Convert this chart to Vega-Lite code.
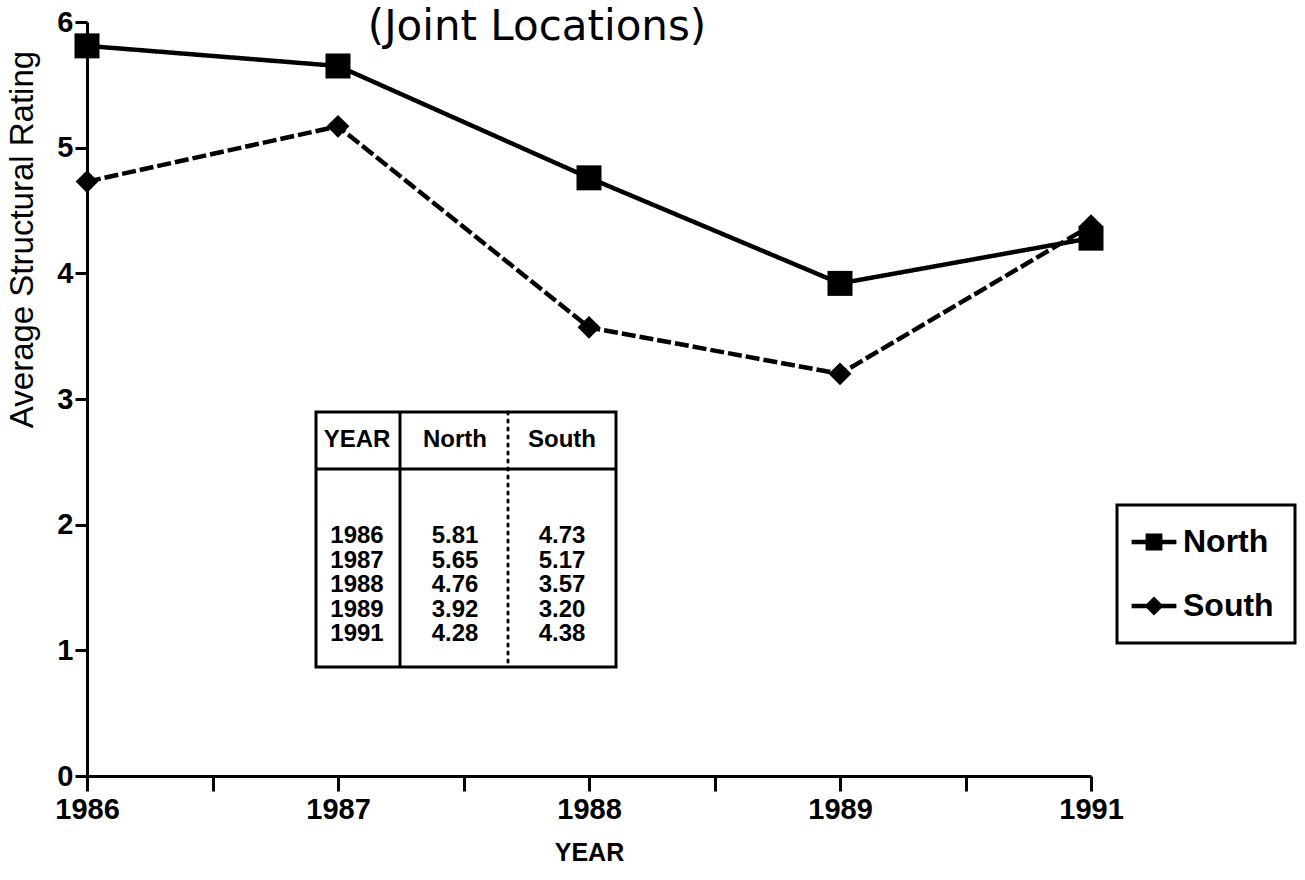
{
  "$schema": "https://vega.github.io/schema/vega-lite/v6.json",
  "width": 1004,
  "height": 754,
  "autosize": "none",
  "padding": {"left": 87, "top": 22, "right": 214, "bottom": 104},
  "background": "white",
  "title": {"text": "(Joint Locations)", "font": "DejaVu Sans", "fontSize": 42, "fontWeight": "normal", "color": "black", "anchor": "middle", "offset": -41, "dx": -52},
  "data": {"values": [
    {"year": "1986", "North": 5.81, "South": 4.73},
    {"year": "1987", "North": 5.65, "South": 5.17},
    {"year": "1988", "North": 4.76, "South": 3.57},
    {"year": "1989", "North": 3.92, "South": 3.20},
    {"year": "1991", "North": 4.28, "South": 4.38}
  ]},
  "layer": [
    {
      "transform": [{"fold": ["North", "South"], "as": ["series", "value"]}],
      "encoding": {
        "x": {"field": "year", "type": "ordinal",
          "scale": {"type": "point", "domain": ["1986", "1986.5", "1987", "1987.5", "1988", "1988.5", "1989", "1989.5", "1991"], "padding": 0},
          "axis": {"title": "YEAR", "labelExpr": "indexof(datum.label, '.') >= 0 ? '' : datum.label", "labelAngle": 0, "labelOverlap": false, "labelFlush": false,
            "tickSize": 15, "tickWidth": 3, "tickColor": "black", "domainWidth": 3, "domainColor": "black",
            "labelFont": "Liberation Sans", "labelFontSize": 29, "labelFontWeight": "bold", "labelColor": "black", "labelPadding": 4,
            "titleFont": "Liberation Sans", "titleFontSize": 25, "titleFontWeight": "bold", "titleColor": "black", "titlePadding": 16, "grid": false}},
        "y": {"field": "value", "type": "quantitative",
          "scale": {"domain": [0, 6], "nice": false},
          "axis": {"values": [0, 1, 2, 3, 4, 5, 6], "tickSize": 12, "tickWidth": 3, "tickColor": "black", "domainWidth": 3, "domainColor": "black",
            "labelFont": "Liberation Sans", "labelFontSize": 29, "labelFontWeight": "bold", "labelColor": "black", "labelPadding": 2,
            "title": "Average Structural Rating", "titleFont": "Liberation Sans", "titleFontSize": 33, "titleFontWeight": "normal", "titleColor": "black",
            "titleY": 217, "titleX": -48, "grid": false}}
      },
      "layer": [
        {"mark": {"type": "line", "color": "black", "strokeWidth": 4.5},
         "encoding": {"strokeDash": {"field": "series", "type": "nominal", "scale": {"domain": ["North", "South"], "range": [[1, 0], [14, 4]]}, "legend": null}}},
        {"mark": {"type": "point", "filled": true, "color": "black", "opacity": 1},
         "encoding": {
           "shape": {"field": "series", "type": "nominal", "scale": {"domain": ["North", "South"], "range": ["square", "diamond"]}, "legend": null},
           "size": {"field": "series", "type": "nominal", "scale": {"domain": ["North", "South"], "range": [625, 520]}, "legend": null}}},
        {"mark": {"type": "point", "filled": true, "color": "black", "opacity": 0, "size": 784},
         "encoding": {
           "shape": {"field": "series", "type": "nominal",
             "scale": {"domain": ["North", "South"], "range": ["M-1.6,-0.16L1.6,-0.16L1.6,0.16L-1.6,0.16Z M-0.6,-0.6L0.6,-0.6L0.6,0.6L-0.6,0.6Z", "M-1.6,-0.16L1.6,-0.16L1.6,0.16L-1.6,0.16Z M0,-0.68L0.68,0L0,0.68L-0.68,0Z"]},
             "legend": {"title": null, "orient": "none", "legendX": 1030, "legendY": 483, "symbolSize": 784, "symbolOpacity": 1, "symbolFillColor": "black", "symbolStrokeColor": "black", "symbolStrokeWidth": 0,
               "labelFont": "Liberation Sans", "labelFontSize": 32, "labelFontWeight": "bold", "labelColor": "black", "labelOffset": 13, "rowPadding": 32, "padding": 21, "strokeColor": "black"}}}}
      ],
      "resolve": {"scale": {"shape": "independent", "size": "independent"}}
    },
    {
      "layer": [
        {"data": {"values": [{}]}, "mark": {"type": "rect", "fill": "white", "stroke": "black", "strokeWidth": 3},
         "encoding": {
           "x": {"datum": 0, "type": "quantitative", "scale": {"domain": [0, 300], "range": [229, 529], "nice": false, "zero": false}, "axis": null},
           "x2": {"datum": 300},
           "y": {"datum": 0, "type": "quantitative", "scale": {"domain": [0, 255], "range": [390, 645], "nice": false, "zero": false}, "axis": null},
           "y2": {"datum": 255}}},
        {"data": {"values": [{}]}, "mark": {"type": "rule", "color": "black", "strokeWidth": 3},
         "encoding": {
           "x": {"datum": 84, "type": "quantitative", "scale": {"domain": [0, 300], "range": [229, 529], "nice": false, "zero": false}, "axis": null},
           "y": {"datum": 0, "type": "quantitative", "scale": {"domain": [0, 255], "range": [390, 645], "nice": false, "zero": false}, "axis": null},
           "y2": {"datum": 255}}},
        {"data": {"values": [{}]}, "mark": {"type": "rule", "color": "black", "strokeWidth": 3, "strokeDash": [2, 6], "strokeCap": "round"},
         "encoding": {
           "x": {"datum": 192, "type": "quantitative", "scale": {"domain": [0, 300], "range": [229, 529], "nice": false, "zero": false}, "axis": null},
           "y": {"datum": 0, "type": "quantitative", "scale": {"domain": [0, 255], "range": [390, 645], "nice": false, "zero": false}, "axis": null},
           "y2": {"datum": 255}}},
        {"data": {"values": [{}]}, "mark": {"type": "rule", "color": "black", "strokeWidth": 3},
         "encoding": {
           "x": {"datum": 0, "type": "quantitative", "scale": {"domain": [0, 300], "range": [229, 529], "nice": false, "zero": false}, "axis": null},
           "x2": {"datum": 300},
           "y": {"datum": 57, "type": "quantitative", "scale": {"domain": [0, 255], "range": [390, 645], "nice": false, "zero": false}, "axis": null}}},
        {"data": {"values": [{}]}, "mark": {"type": "text", "font": "Liberation Sans", "fontSize": 24, "fontWeight": "bold", "color": "black", "align": "center", "baseline": "middle", "text": "YEAR"},
         "encoding": {
           "x": {"datum": 41, "type": "quantitative", "scale": {"domain": [0, 300], "range": [229, 529], "nice": false, "zero": false}, "axis": null},
           "y": {"datum": 28, "type": "quantitative", "scale": {"domain": [0, 255], "range": [390, 645], "nice": false, "zero": false}, "axis": null}}},
        {"data": {"values": [{}]}, "mark": {"type": "text", "font": "Liberation Sans", "fontSize": 24, "fontWeight": "bold", "color": "black", "align": "center", "baseline": "middle", "text": "North"},
         "encoding": {
           "x": {"datum": 139, "type": "quantitative", "scale": {"domain": [0, 300], "range": [229, 529], "nice": false, "zero": false}, "axis": null},
           "y": {"datum": 28, "type": "quantitative", "scale": {"domain": [0, 255], "range": [390, 645], "nice": false, "zero": false}, "axis": null}}},
        {"data": {"values": [{}]}, "mark": {"type": "text", "font": "Liberation Sans", "fontSize": 24, "fontWeight": "bold", "color": "black", "align": "center", "baseline": "middle", "text": "South"},
         "encoding": {
           "x": {"datum": 246, "type": "quantitative", "scale": {"domain": [0, 300], "range": [229, 529], "nice": false, "zero": false}, "axis": null},
           "y": {"datum": 28, "type": "quantitative", "scale": {"domain": [0, 255], "range": [390, 645], "nice": false, "zero": false}, "axis": null}}},
        {"mark": {"type": "text", "font": "Liberation Sans", "fontSize": 24, "fontWeight": "bold", "color": "black", "align": "center", "baseline": "middle"},
         "encoding": {
           "x": {"datum": 41, "type": "quantitative", "scale": {"domain": [0, 300], "range": [229, 529], "nice": false, "zero": false}, "axis": null},
           "y": {"field": "year", "type": "ordinal", "scale": {"type": "point", "domain": ["1986", "1987", "1988", "1989", "1991"], "range": [514, 612], "padding": 0}, "axis": null},
           "text": {"field": "year"}}},
        {"mark": {"type": "text", "font": "Liberation Sans", "fontSize": 24, "fontWeight": "bold", "color": "black", "align": "center", "baseline": "middle"},
         "encoding": {
           "x": {"datum": 139, "type": "quantitative", "scale": {"domain": [0, 300], "range": [229, 529], "nice": false, "zero": false}, "axis": null},
           "y": {"field": "year", "type": "ordinal", "scale": {"type": "point", "domain": ["1986", "1987", "1988", "1989", "1991"], "range": [514, 612], "padding": 0}, "axis": null},
           "text": {"field": "North", "format": ".2f"}}},
        {"mark": {"type": "text", "font": "Liberation Sans", "fontSize": 24, "fontWeight": "bold", "color": "black", "align": "center", "baseline": "middle"},
         "encoding": {
           "x": {"datum": 246, "type": "quantitative", "scale": {"domain": [0, 300], "range": [229, 529], "nice": false, "zero": false}, "axis": null},
           "y": {"field": "year", "type": "ordinal", "scale": {"type": "point", "domain": ["1986", "1987", "1988", "1989", "1991"], "range": [514, 612], "padding": 0}, "axis": null},
           "text": {"field": "South", "format": ".2f"}}}
      ],
      "resolve": {"scale": {"y": "independent"}}
    }
  ],
  "resolve": {"scale": {"x": "independent", "y": "independent"}},
  "config": {"view": {"stroke": null}, "legend": {"strokeWidth": 3}}
}
